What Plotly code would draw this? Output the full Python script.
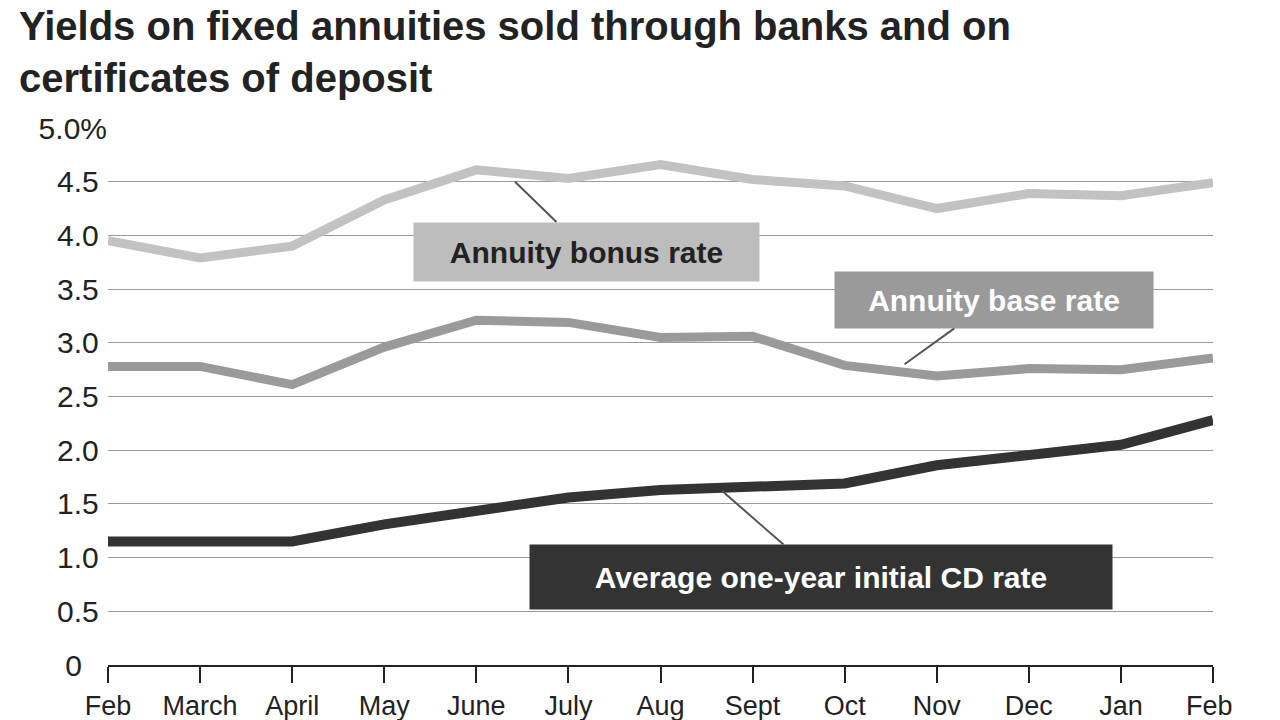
import plotly.graph_objects as go

months = ["Feb", "March", "April", "May", "June", "July", "Aug", "Sept", "Oct", "Nov", "Dec", "Jan", "Feb "]
bonus_rate = [3.95, 3.79, 3.90, 4.33, 4.61, 4.53, 4.66, 4.52, 4.46, 4.25, 4.39, 4.37, 4.49]
base_rate = [2.78, 2.78, 2.61, 2.96, 3.21, 3.19, 3.05, 3.06, 2.79, 2.69, 2.76, 2.75, 2.86]
cd_rate = [1.15, 1.15, 1.15, 1.31, 1.43, 1.56, 1.63, 1.65, 1.69, 1.86, 1.95, 2.05, 2.28]
y_ticks = [0, 0.5, 1.0, 1.5, 2.0, 2.5, 3.0, 3.5, 4.0, 4.5, 5.0]
y_labels = ["0   ", "0.5 ", "1.0 ", "1.5 ", "2.0 ", "2.5 ", "3.0 ", "3.5 ", "4.0 ", "4.5 ", "5.0%"]

font = "Liberation Sans, Arial, sans-serif"
x = list(range(len(months)))

fig = go.Figure()
fig.add_trace(go.Scatter(x=x, y=bonus_rate, mode="lines", line=dict(color="#c2c2c2", width=9)))
fig.add_trace(go.Scatter(x=x, y=base_rate, mode="lines", line=dict(color="#9a9a9a", width=9)))
fig.add_trace(go.Scatter(x=x, y=cd_rate, mode="lines", line=dict(color="#333333", width=10)))

def label(text, tx, ty, px, py, bg, fg, w, h):
    fig.add_annotation(x=px, y=py, ax=tx, ay=ty, axref="x", ayref="y", xref="x", yref="y",
                       text=text, showarrow=True, arrowhead=0, arrowwidth=2, arrowcolor="#555",
                       bgcolor=bg, font=dict(family=font, size=30, color=fg),
                       width=w, height=h, borderpad=0)

label("<b>Annuity bonus rate</b>", 5.2, 3.85, 4.42, 4.5, "#bdbdbd", "#222", 345, 58)
label("<b>Annuity base rate</b>", 9.62, 3.40, 8.65, 2.8, "#9a9a9a", "white", 318, 56)
label("<b>Average one-year initial CD rate</b>", 7.74, 0.82, 6.67, 1.62, "#333333", "white", 582, 64)

fig.add_annotation(text="<b>Yields on fixed annuities sold through banks and on<br>certificates of deposit</b>",
                   xref="paper", yref="paper", x=-0.082, y=1.235, xanchor="left", yanchor="top",
                   align="left", showarrow=False, font=dict(family=font, size=40, color="#222"))

fig.update_xaxes(range=[0, 12], tickvals=x, ticktext=months, ticks="outside", ticklen=16,
                 tickwidth=2, tickcolor="#222", showgrid=False, showline=True, linecolor="#222",
                 linewidth=2, tickfont=dict(family=font, size=27, color="#222"), zeroline=False,
                 automargin=False)
fig.update_yaxes(range=[0, 5.0], tickvals=y_ticks, ticktext=y_labels, showgrid=True,
                 gridcolor="#9a9a9a", gridwidth=1, zeroline=False, automargin=False,
                 tickfont=dict(family=font, size=30, color="#222"))
fig.update_layout(
    width=1280, height=720, showlegend=False, plot_bgcolor="white", paper_bgcolor="white",
    margin=dict(l=100, r=75, t=120, b=63),
)
fig.write_html("out.html")
